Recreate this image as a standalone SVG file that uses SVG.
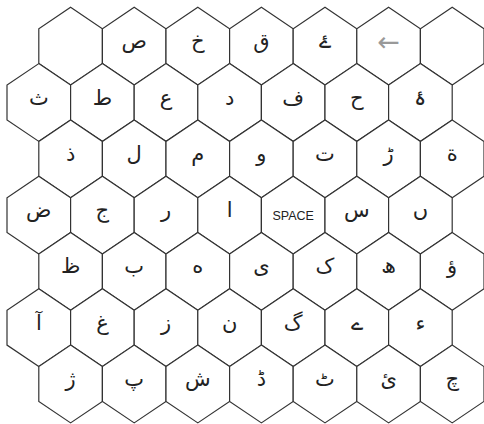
<svg xmlns="http://www.w3.org/2000/svg" xmlns:xlink="http://www.w3.org/1999/xlink" width="484" height="424" viewBox="0 0 484 424">
<style>
.hex{fill:#ffffff;stroke:#333333;stroke-width:1.2}
.lbl{font-family:"DejaVu Sans","Liberation Sans",sans-serif;font-size:21px;fill:#222222;text-anchor:middle}
.sp{font-family:"Liberation Sans",Arial,sans-serif;font-size:12.5px;fill:#222222;text-anchor:middle}
.arr{font-family:"DejaVu Sans",sans-serif;font-size:27px;fill:#999999;text-anchor:middle}
</style>
<defs>
<polygon id="h" class="hex" points="0,-38.9 31.8,-17.4 31.8,17.4 0,38.9 -31.8,17.4 -31.8,-17.4"/>
</defs>
<rect width="484" height="424" fill="#ffffff"/>
<g id="connectors"></g>
<!-- row 0 -->
<g id="r0c0" transform="translate(70.6,46.2)"><use xlink:href="#h"/></g>
<g id="r0c1" transform="translate(134.2,46.2)"><use xlink:href="#h"/><text class="lbl" y="2">ص</text></g>
<g id="r0c2" transform="translate(197.8,46.2)"><use xlink:href="#h"/><text class="lbl" y="2">خ</text></g>
<g id="r0c3" transform="translate(261.4,46.2)"><use xlink:href="#h"/><text class="lbl" y="2">ق</text></g>
<g id="r0c4" transform="translate(325,46.2)"><use xlink:href="#h"/><text class="lbl" y="2">ۓ</text></g>
<g id="r0c5" transform="translate(388.6,46.2)"><use xlink:href="#h"/><text class="arr" y="5">←</text></g>
<g id="r0c6" transform="translate(452.2,46.2)"><use xlink:href="#h"/></g>
<!-- row 1 -->
<g id="r1c0" transform="translate(38.8,102.5)"><use xlink:href="#h"/><text class="lbl" y="2">ث</text></g>
<g id="r1c1" transform="translate(102.4,102.5)"><use xlink:href="#h"/><text class="lbl" y="2">ط</text></g>
<g id="r1c2" transform="translate(166,102.5)"><use xlink:href="#h"/><text class="lbl" y="2">ع</text></g>
<g id="r1c3" transform="translate(229.6,102.5)"><use xlink:href="#h"/><text class="lbl" y="2">د</text></g>
<g id="r1c4" transform="translate(293.2,102.5)"><use xlink:href="#h"/><text class="lbl" y="2">ف</text></g>
<g id="r1c5" transform="translate(356.8,102.5)"><use xlink:href="#h"/><text class="lbl" y="2">ح</text></g>
<g id="r1c6" transform="translate(420.4,102.5)"><use xlink:href="#h"/><text class="lbl" y="2">ۂ</text></g>
<!-- row 2 -->
<g id="r2c0" transform="translate(70.6,158.8)"><use xlink:href="#h"/><text class="lbl" y="2">ذ</text></g>
<g id="r2c1" transform="translate(134.2,158.8)"><use xlink:href="#h"/><text class="lbl" y="2">ل</text></g>
<g id="r2c2" transform="translate(197.8,158.8)"><use xlink:href="#h"/><text class="lbl" y="2">م</text></g>
<g id="r2c3" transform="translate(261.4,158.8)"><use xlink:href="#h"/><text class="lbl" y="2">و</text></g>
<g id="r2c4" transform="translate(325,158.8)"><use xlink:href="#h"/><text class="lbl" y="2">ت</text></g>
<g id="r2c5" transform="translate(388.6,158.8)"><use xlink:href="#h"/><text class="lbl" y="2">ڑ</text></g>
<g id="r2c6" transform="translate(452.2,158.8)"><use xlink:href="#h"/><text class="lbl" y="2">ة</text></g>
<!-- row 3 -->
<g id="r3c0" transform="translate(38.8,215.1)"><use xlink:href="#h"/><text class="lbl" y="2">ض</text></g>
<g id="r3c1" transform="translate(102.4,215.1)"><use xlink:href="#h"/><text class="lbl" y="2">ج</text></g>
<g id="r3c2" transform="translate(166,215.1)"><use xlink:href="#h"/><text class="lbl" y="2">ر</text></g>
<g id="r3c3" transform="translate(229.6,215.1)"><use xlink:href="#h"/><text class="lbl" y="2">ا</text></g>
<g id="r3c4" transform="translate(293.2,215.1)"><use xlink:href="#h"/><text class="sp" y="5">SPACE</text></g>
<g id="r3c5" transform="translate(356.8,215.1)"><use xlink:href="#h"/><text class="lbl" y="2">س</text></g>
<g id="r3c6" transform="translate(420.4,215.1)"><use xlink:href="#h"/><text class="lbl" y="2">ں</text></g>
<!-- row 4 -->
<g id="r4c0" transform="translate(70.6,271.4)"><use xlink:href="#h"/><text class="lbl" y="2">ظ</text></g>
<g id="r4c1" transform="translate(134.2,271.4)"><use xlink:href="#h"/><text class="lbl" y="2">ب</text></g>
<g id="r4c2" transform="translate(197.8,271.4)"><use xlink:href="#h"/><text class="lbl" y="2">ه</text></g>
<g id="r4c3" transform="translate(261.4,271.4)"><use xlink:href="#h"/><text class="lbl" y="2">ی</text></g>
<g id="r4c4" transform="translate(325,271.4)"><use xlink:href="#h"/><text class="lbl" y="2">ک</text></g>
<g id="r4c5" transform="translate(388.6,271.4)"><use xlink:href="#h"/><text class="lbl" y="2">ھ</text></g>
<g id="r4c6" transform="translate(452.2,271.4)"><use xlink:href="#h"/><text class="lbl" y="2">ؤ</text></g>
<!-- row 5 -->
<g id="r5c0" transform="translate(38.8,327.7)"><use xlink:href="#h"/><text class="lbl" y="2">آ</text></g>
<g id="r5c1" transform="translate(102.4,327.7)"><use xlink:href="#h"/><text class="lbl" y="2">غ</text></g>
<g id="r5c2" transform="translate(166,327.7)"><use xlink:href="#h"/><text class="lbl" y="2">ز</text></g>
<g id="r5c3" transform="translate(229.6,327.7)"><use xlink:href="#h"/><text class="lbl" y="2">ن</text></g>
<g id="r5c4" transform="translate(293.2,327.7)"><use xlink:href="#h"/><text class="lbl" y="2">گ</text></g>
<g id="r5c5" transform="translate(356.8,327.7)"><use xlink:href="#h"/><text class="lbl" y="2">ے</text></g>
<g id="r5c6" transform="translate(420.4,327.7)"><use xlink:href="#h"/><text class="lbl" y="2">ء</text></g>
<!-- row 6 -->
<g id="r6c0" transform="translate(70.6,384)"><use xlink:href="#h"/><text class="lbl" y="2">ژ</text></g>
<g id="r6c1" transform="translate(134.2,384)"><use xlink:href="#h"/><text class="lbl" y="2">پ</text></g>
<g id="r6c2" transform="translate(197.8,384)"><use xlink:href="#h"/><text class="lbl" y="2">ش</text></g>
<g id="r6c3" transform="translate(261.4,384)"><use xlink:href="#h"/><text class="lbl" y="2">ڈ</text></g>
<g id="r6c4" transform="translate(325,384)"><use xlink:href="#h"/><text class="lbl" y="2">ٹ</text></g>
<g id="r6c5" transform="translate(388.6,384)"><use xlink:href="#h"/><text class="lbl" y="2">ئ</text></g>
<g id="r6c6" transform="translate(452.2,384)"><use xlink:href="#h"/><text class="lbl" y="2">چ</text></g>
</svg>
